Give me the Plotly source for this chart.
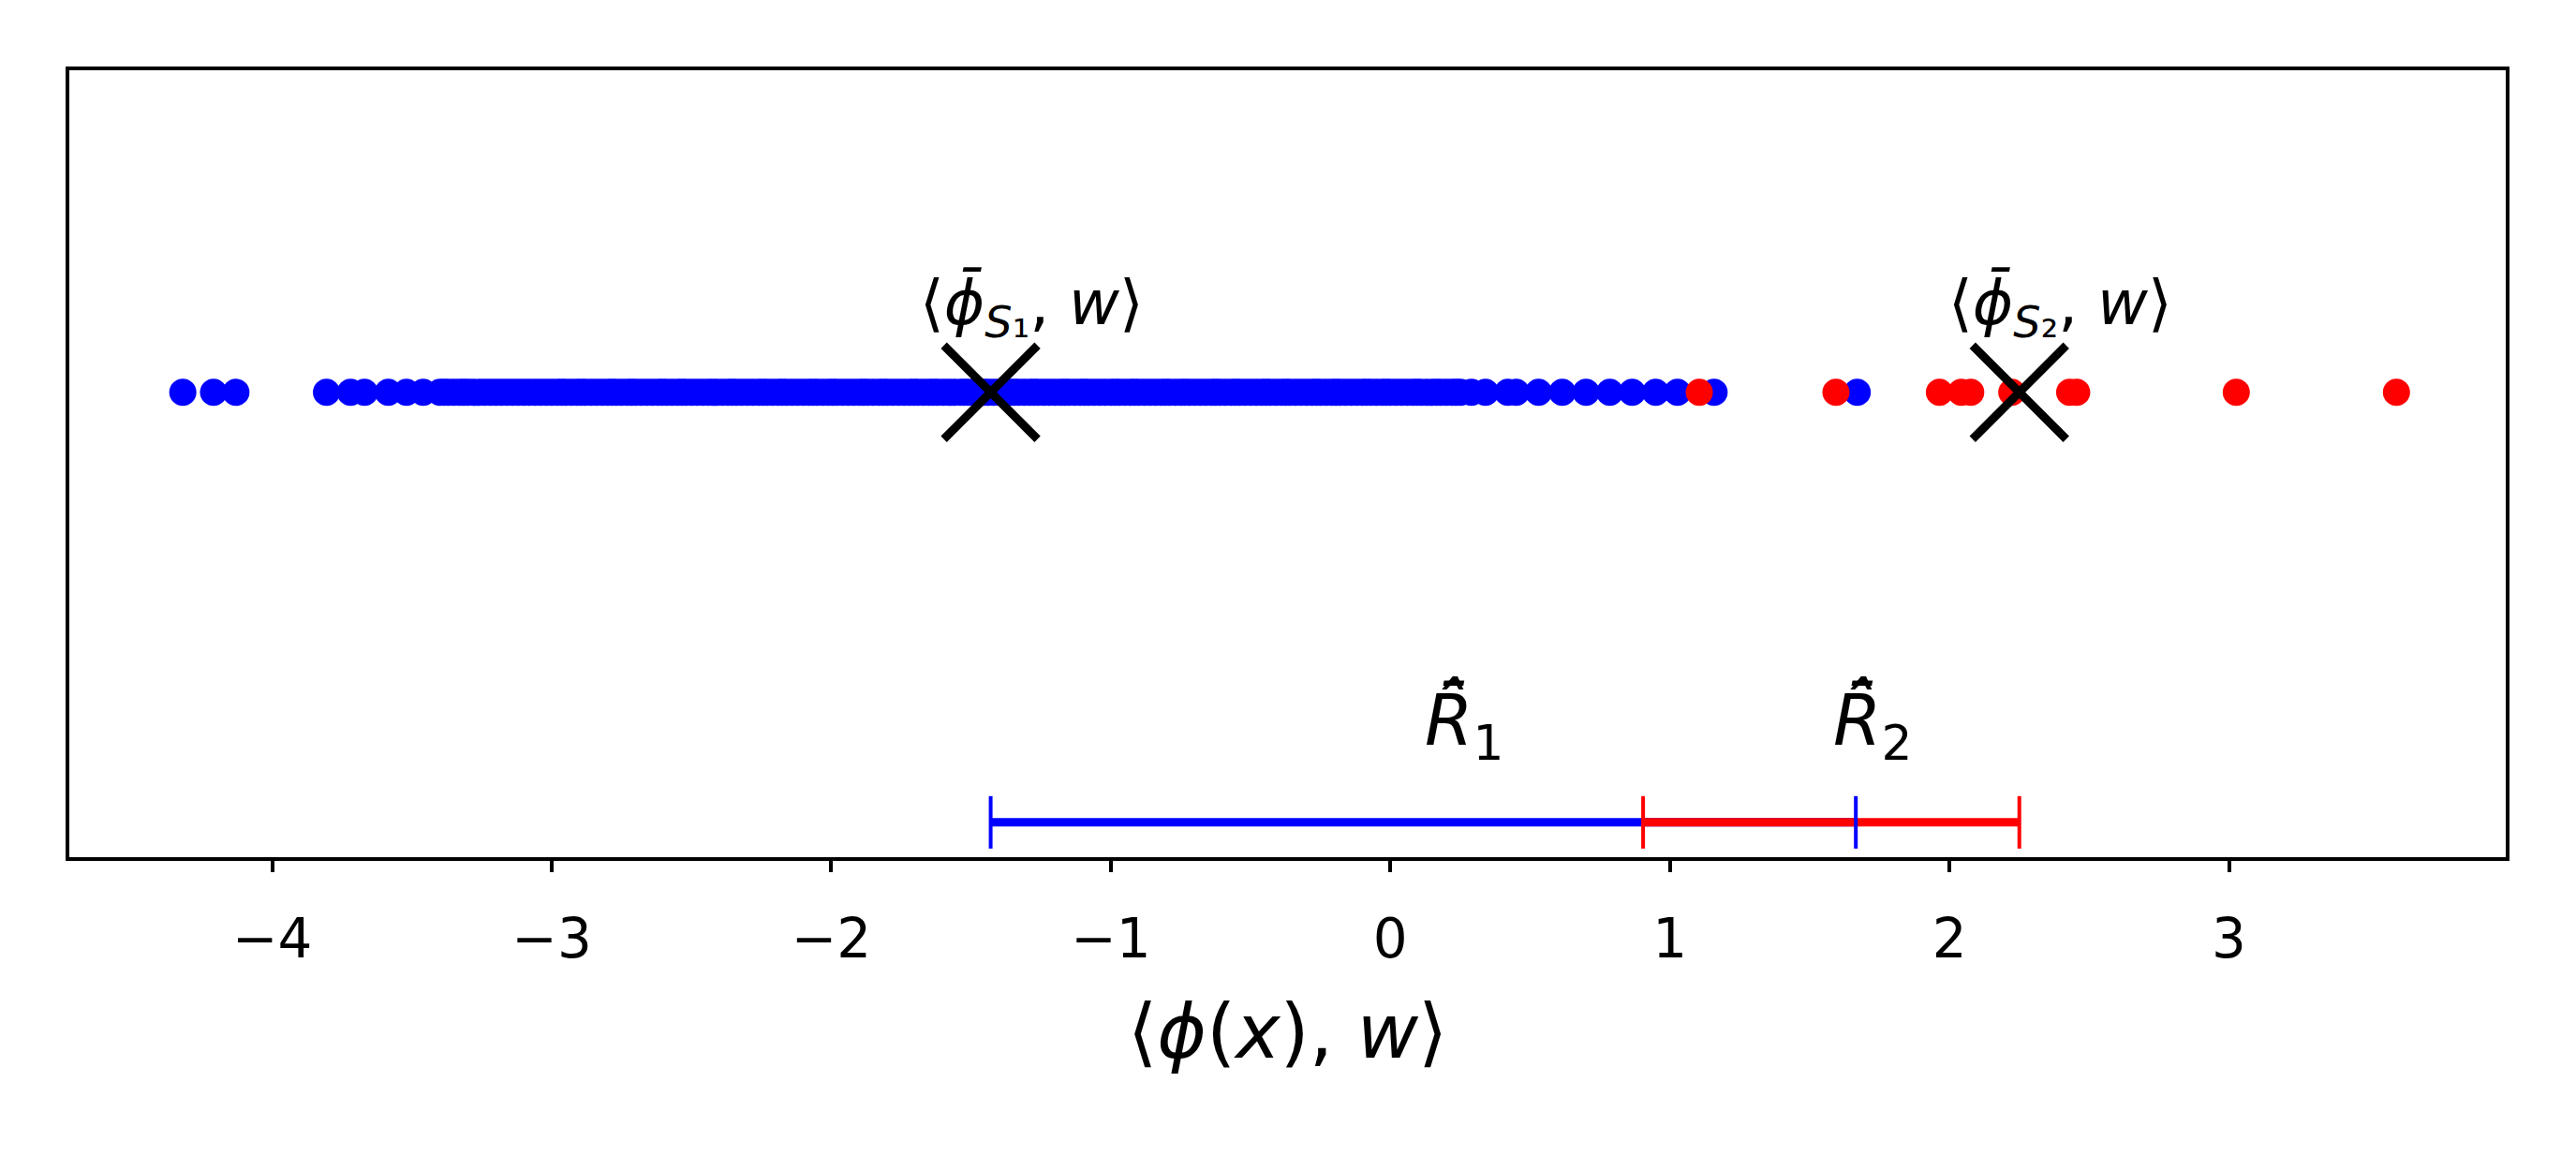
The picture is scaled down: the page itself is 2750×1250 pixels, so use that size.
import plotly.graph_objects as go

# ---- data ----
blue_points = [
    -4.32, -4.21, -4.13,
    -3.806, -3.72, -3.67, -3.585, -3.52, -3.46,
    -3.40, -3.37, -3.33, -3.30, -3.26, -3.22, -3.18, -3.14, -3.10, -3.06, -3.02,
    -2.98, -2.95, -2.91, -2.88, -2.84, -2.80, -2.77, -2.73, -2.70, -2.66, -2.62,
    -2.59, -2.55, -2.52, -2.48, -2.44, -2.41, -2.37, -2.34, -2.30, -2.26, -2.23,
    -2.19, -2.16, -2.12, -2.08, -2.05, -2.01, -1.98, -1.94, -1.90, -1.87, -1.83,
    -1.80, -1.76, -1.72, -1.69, -1.65, -1.62, -1.58, -1.54, -1.51, -1.47, -1.44,
    -1.40, -1.36, -1.33, -1.29, -1.26, -1.22, -1.18, -1.15, -1.11, -1.08, -1.04,
    -1.00, -0.97, -0.93, -0.90, -0.86, -0.82, -0.79, -0.75, -0.72, -0.68, -0.64,
    -0.61, -0.57, -0.54, -0.50, -0.46, -0.43, -0.39, -0.36, -0.32, -0.28, -0.25,
    -0.21, -0.18, -0.14, -0.10, -0.07, -0.03, 0.00, 0.04, 0.08, 0.11, 0.15, 0.18,
    0.22, 0.25,
    0.29, 0.34, 0.42, 0.45, 0.53, 0.615, 0.70, 0.785, 0.865, 0.949, 1.027, 1.158,
    1.670,
]
blue_points_dense = [
    -3.385, -3.35, -3.315, -3.28, -3.24, -3.20, -3.16, -3.12, -3.08, -3.04,
    -3.00, -2.965, -2.93, -2.895, -2.86, -2.82, -2.785, -2.75, -2.715, -2.68,
    -2.64, -2.605, -2.57, -2.535, -2.50, -2.46, -2.425, -2.39, -2.355, -2.32,
    -2.28, -2.245, -2.21, -2.175, -2.14, -2.10, -2.065, -2.03, -1.995, -1.96,
    -1.92, -1.885, -1.85, -1.815, -1.78, -1.74, -1.705, -1.67, -1.635, -1.60,
    -1.56, -1.525, -1.49, -1.455, -1.42, -1.38, -1.345, -1.31, -1.275, -1.24,
    -1.20, -1.165, -1.13, -1.095, -1.06, -1.02, -0.985, -0.95, -0.915, -0.88,
    -0.84, -0.805, -0.77, -0.735, -0.70, -0.66, -0.625, -0.59, -0.555, -0.52,
    -0.48, -0.445, -0.41, -0.375, -0.34, -0.30, -0.265, -0.23, -0.195, -0.16,
    -0.12, -0.085, -0.05, -0.015, 0.02, 0.06, 0.095, 0.13, 0.165, 0.20, 0.235,
]
red_points = [1.105, 1.594, 1.964, 2.042, 2.076, 2.223, 2.43, 2.455, 3.026, 3.599]

class_means = [-1.43, 2.25]          # <phi_bar_S1, w>, <phi_bar_S2, w>
mean_labels = ["⟨<i>ϕ̄</i><sub><i>S</i>₁</sub>, <i>w</i>⟩",
               "⟨<i>ϕ̄</i><sub><i>S</i>₂</sub>, <i>w</i>⟩"]

interval_1 = [-1.43, 1.665]          # R_hat_bar_1 (blue)
interval_2 = [0.904, 2.25]           # R_hat_bar_2 (red)
interval_labels = ["<i>R̄̂</i><sub>1</sub>", "<i>R̄̂</i><sub>2</sub>"]

tick_vals = [-4, -3, -2, -1, 0, 1, 2, 3]
tick_text = ["−4", "−3", "−2", "−1", "0", "1", "2", "3"]

BLUE = "#0000ff"
RED = "#ff0000"
FONT = "DejaVu Sans"

all_blue = blue_points + blue_points_dense

fig = go.Figure()

# points
fig.add_trace(go.Scatter(x=all_blue, y=[0] * len(all_blue), mode="markers",
                         marker=dict(color=BLUE, size=29, line=dict(width=0)),
                         showlegend=False, hoverinfo="x"))
fig.add_trace(go.Scatter(x=red_points, y=[0] * len(red_points), mode="markers",
                         marker=dict(color=RED, size=29, line=dict(width=0)),
                         showlegend=False, hoverinfo="x"))
# class means
fig.add_trace(go.Scatter(x=class_means, y=[0] * len(class_means), mode="markers",
                         marker=dict(symbol="x-thin", size=100, color="black",
                                     line=dict(width=9, color="black")),
                         showlegend=False, hoverinfo="x"))

# intervals
fig.add_trace(go.Scatter(x=interval_1, y=[-1, -1], mode="lines",
                         line=dict(color=BLUE, width=9), showlegend=False))
fig.add_trace(go.Scatter(x=interval_2, y=[-1, -1], mode="lines",
                         line=dict(color=RED, width=9), showlegend=False))
fig.add_trace(go.Scatter(x=interval_1, y=[-1, -1], mode="markers",
                         marker=dict(symbol="line-ns", size=40,
                                     line=dict(width=4, color=BLUE)),
                         showlegend=False))
fig.add_trace(go.Scatter(x=interval_2, y=[-1, -1], mode="markers",
                         marker=dict(symbol="line-ns", size=40,
                                     line=dict(width=4, color=RED)),
                         showlegend=False))

# mean labels
for m, lab in zip(class_means, mean_labels):
    fig.add_annotation(x=m - 0.26, y=0.198, xref="x", yref="y", text=lab,
                       showarrow=False, xanchor="left", yanchor="middle",
                       font=dict(family=FONT, size=66, color="black"))

# interval labels
for iv, lab in zip([interval_1, interval_2], interval_labels):
    mid = (iv[0] + iv[1]) / 2
    fig.add_annotation(x=mid, y=-0.77, xref="x", yref="y", text=lab,
                       showarrow=False, xanchor="left", yanchor="middle",
                       font=dict(family=FONT, size=74, color="black"))

# x-axis title
fig.add_annotation(x=0.5, y=0, xref="paper", yref="paper",
                   text="⟨<i>ϕ</i>(<i>x</i>), <i>w</i>⟩", showarrow=False,
                   xanchor="center", yanchor="middle", yshift=-186,
                   font=dict(family=FONT, size=80, color="black"))

fig.update_xaxes(range=[-4.726, 3.99], tickvals=tick_vals, ticktext=tick_text,
                 showline=True, mirror=True, linecolor="black", linewidth=3.5,
                 ticks="outside", ticklen=12, tickwidth=3.5, tickcolor="black",
                 showgrid=False, zeroline=False, ticklabelstandoff=22,
                 tickfont=dict(family=FONT, size=58, color="black"))
fig.update_yaxes(range=[-1.081, 0.749], showticklabels=False, ticks="",
                 showline=True, mirror=True, linecolor="black", linewidth=3.5,
                 showgrid=False, zeroline=False)

# page body has an 8px margin, so the figure sits 8px right/down of the window origin
fig.update_layout(width=2750, height=1250,
                  margin=dict(l=66, r=83, t=67, b=343),
                  paper_bgcolor="white", plot_bgcolor="white",
                  font=dict(family=FONT, color="black"),
                  showlegend=False)

fig.write_html("out.html")
